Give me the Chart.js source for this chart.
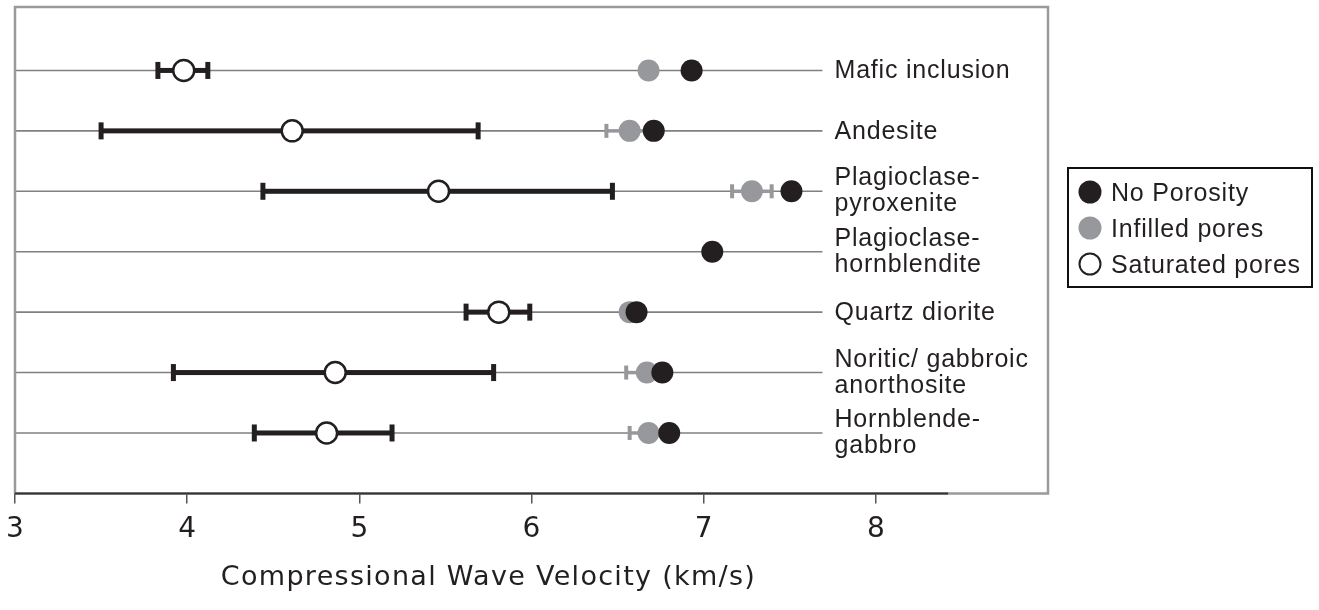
<!DOCTYPE html>
<html>
<head>
<meta charset="utf-8">
<script src="https://cdn.jsdelivr.net/npm/chart.js@4.4.1/dist/chart.umd.min.js"></script>
<style>
  html, body { margin: 0; padding: 0; background: #fff; }
  #wrap { width: 1319px; height: 610px; position: relative; }
</style>
</head>
<body>
<div id="wrap"><canvas id="velocity"></canvas></div>
<script>
const rockTypes = [["Mafic inclusion"], ["Andesite"], ["Plagioclase-", "pyroxenite"], ["Plagioclase-", "hornblendite"], ["Quartz diorite"], ["Noritic/ gabbroic", "anorthosite"], ["Hornblende-", "gabbro"]];
const noPorosity = [6.93, 6.71, 7.51, 7.05, 6.61, 6.76, 6.80];
const infilled = [6.68, 6.57, 7.28, null, 6.57, 6.67, 6.68];
const infilledErr = [null, 0.135, 0.115, null, null, 0.12, 0.11];
const saturated = [3.98, 4.61, 5.46, null, 5.81, 4.86, 4.81];
const saturatedLow = [3.83, 3.50, 4.44, null, 5.62, 3.92, 4.39];
const saturatedHigh = [4.12, 5.69, 6.47, null, 5.99, 5.78, 5.19];
const xTicks = [3, 4, 5, 6, 7, 8];
const seriesNames = ["No Porosity", "Infilled pores", "Saturated pores"];
const axisTitle = "Compressional Wave Velocity (km/s)";

const INK = "#231f20";
const GREY = "#97989b";
const LABEL_FONT = "25px 'Liberation Sans', Arial, sans-serif";

function points(values) {
  return values.map((x, row) => (x === null ? null : { x, y: row })).filter(Boolean);
}

function errorBar(ctx, chart, lo, hi, row, color, width, capW, capH) {
  const xs = chart.scales.x;
  const y = chart.scales.y.getPixelForValue(row);
  const x1 = xs.getPixelForValue(lo);
  const x2 = xs.getPixelForValue(hi);
  ctx.fillStyle = color;
  ctx.fillRect(x1, y - width / 2, x2 - x1, width);
  ctx.fillRect(x1 - capW / 2, y - capH / 2, capW, capH);
  ctx.fillRect(x2 - capW / 2, y - capH / 2, capW, capH);
}

const backdrop = {
  id: "backdrop",
  beforeDatasetsDraw(chart) {
    const { ctx, chartArea: area, scales } = chart;
    ctx.save();
    // row guide lines
    ctx.strokeStyle = "#808080";
    ctx.lineWidth = 1.6;
    rockTypes.forEach((_, row) => {
      const y = scales.y.getPixelForValue(row);
      ctx.beginPath();
      ctx.moveTo(area.left, y);
      ctx.lineTo(scales.x.getPixelForValue(7.69), y);
      ctx.stroke();
    });
    saturated.forEach((v, row) => {
      if (v !== null) errorBar(ctx, chart, saturatedLow[row], saturatedHigh[row], row, INK, 5, 5, 17);
    });
    infilled.forEach((v, row) => {
      if (v !== null && infilledErr[row] !== null) errorBar(ctx, chart, v - infilledErr[row], v + infilledErr[row], row, GREY, 3.5, 4, 14);
    });
    ctx.restore();
  },
  afterDraw(chart) {
    const { ctx, chartArea: area, scales } = chart;
    ctx.save();
    // frame
    ctx.strokeStyle = "#9a9a9a";
    ctx.lineWidth = 2.5;
    ctx.beginPath();
    ctx.moveTo(area.left, area.bottom);
    ctx.lineTo(area.left, area.top);
    ctx.lineTo(area.right, area.top);
    ctx.lineTo(area.right, area.bottom);
    ctx.lineTo(area.left, area.bottom);
    ctx.stroke();
    ctx.strokeStyle = "#333";
    ctx.lineWidth = 2;
    ctx.beginPath();
    ctx.moveTo(area.left, area.bottom);
    ctx.lineTo(scales.x.getPixelForValue(8.42), area.bottom);
    ctx.stroke();

    // axis title, sits a little left of centre in the original
    ctx.fillStyle = INK;
    ctx.font = "27px 'DejaVu Sans', sans-serif";
    ctx.letterSpacing = "1.3px";
    ctx.textAlign = "center";
    ctx.textBaseline = "middle";
    ctx.fillText(axisTitle, (area.left + area.right) / 2 - 43, 578);

    // rock labels
    ctx.font = LABEL_FONT;
    ctx.letterSpacing = "0.8px";
    ctx.textAlign = "left";
    ctx.textBaseline = "alphabetic";
    const lx = scales.x.getPixelForValue(7.76);
    rockTypes.forEach((lines, row) => {
      const y = scales.y.getPixelForValue(row);
      if (lines.length === 1) {
        ctx.fillText(lines[0], lx, y + 8);
      } else {
        ctx.fillText(lines[0], lx, y - 6);
        ctx.fillText(lines[1], lx, y + 20);
      }
    });

    // legend box
    const box = { x: 1068, y: 168, w: 244, h: 119 };
    ctx.lineWidth = 2;
    ctx.strokeStyle = "#111";
    ctx.strokeRect(box.x, box.y, box.w, box.h);
    const styles = chart.data.datasets;
    [0, 1, 2].forEach((i) => {
      const cy = box.y + 24 + i * 36;
      const ds = styles[i];
      ctx.beginPath();
      ctx.arc(box.x + 22, cy, i === 2 ? 10.5 : 11.5, 0, Math.PI * 2);
      ctx.fillStyle = ds.backgroundColor;
      ctx.fill();
      if (i === 2) {
        ctx.lineWidth = 2;
        ctx.strokeStyle = ds.borderColor;
        ctx.stroke();
      }
      ctx.fillStyle = INK;
      ctx.fillText(seriesNames[i], box.x + 43, cy + 9);
    });
    ctx.restore();
  }
};

new Chart(document.getElementById("velocity"), {
  type: "scatter",
  data: {
    datasets: [
      { label: seriesNames[0], data: points(noPorosity), backgroundColor: INK, borderColor: INK, borderWidth: 0, pointRadius: 11, order: 1 },
      { label: seriesNames[1], data: points(infilled), backgroundColor: GREY, borderColor: GREY, borderWidth: 0, pointRadius: 11, order: 2 },
      { label: seriesNames[2], data: points(saturated), backgroundColor: "#ffffff", borderColor: INK, borderWidth: 2.5, pointRadius: 10.5, order: 3 }
    ]
  },
  options: {
    responsive: true,
    maintainAspectRatio: false,
    animation: false,
    layout: { autoPadding: false, padding: { left: 15, top: 7, right: 271, bottom: 53 } },
    plugins: { legend: { display: false }, tooltip: { enabled: false } },
    scales: {
      x: {
        type: "linear",
        min: 3,
        max: 9,
        afterBuildTicks: (scale) => { scale.ticks = xTicks.map((value) => ({ value })); },
        afterFit: (scale) => { scale.paddingLeft = 0; scale.paddingRight = 0; },
        grid: { drawOnChartArea: false, drawTicks: true, tickLength: 10, color: "#555", lineWidth: 1.5 },
        border: { display: false },
        ticks: { color: INK, padding: 10, font: { family: "'DejaVu Sans', sans-serif", size: 28 } },
        title: { display: false }
      },
      y: { type: "linear", min: -1.05, max: 7, reverse: true, display: false }
    }
  },
  plugins: [backdrop]
});
</script>
</body>
</html>
